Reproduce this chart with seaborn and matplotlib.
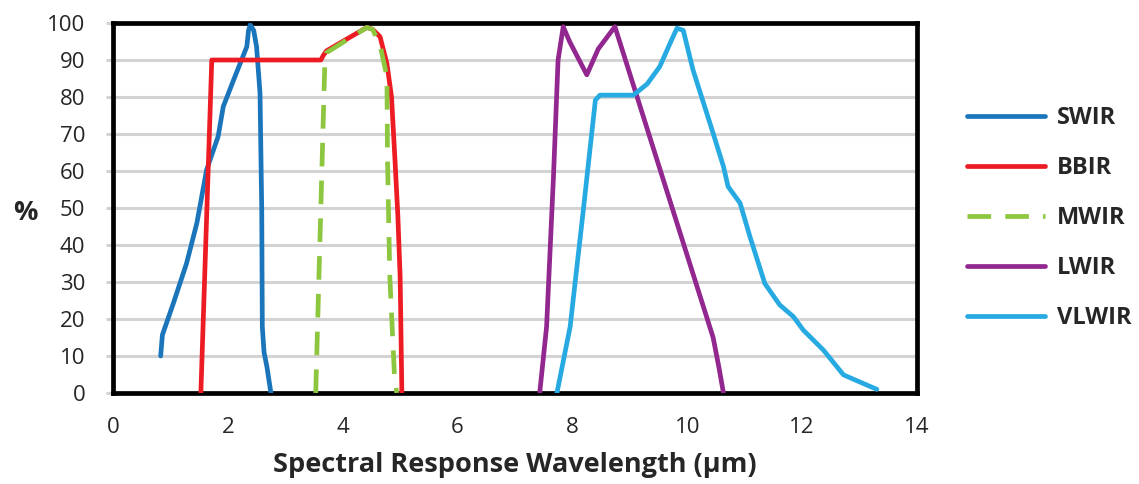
import matplotlib
matplotlib.use("Agg")
import matplotlib.pyplot as plt
import seaborn as sns
import pandas as pd
from matplotlib.lines import Line2D

# ---- data ----
swir_x = [0.83, 0.86, 1.05, 1.28, 1.46, 1.63, 1.83, 1.92, 2.10, 2.33, 2.36, 2.39, 2.45, 2.50, 2.56, 2.59, 2.60, 2.63, 2.68, 2.75]
swir_y = [10, 15.7, 24.2, 35, 45.9, 60.3, 69.3, 77.4, 84.6, 93.6, 98, 99.5, 98, 93.6, 81, 49.5, 17.9, 11, 7.1, 0]

bbir_x = [1.53, 1.72, 3.62, 3.66, 3.72, 4.42, 4.52, 4.65, 4.77, 4.85, 4.91, 4.96, 5.00, 5.03]
bbir_y = [0, 90, 90, 91.2, 92.5, 98.8, 98.3, 96.3, 89, 80, 63, 48, 31.4, 0]

mwir_x = [3.53, 3.69, 3.72, 4.42, 4.52, 4.65, 4.77, 4.78, 4.82, 4.90, 4.94]
mwir_y = [0, 90, 92, 98.8, 98.3, 94, 85.5, 63, 31.4, 5, 0]

lwir_x = [7.43, 7.55, 7.67, 7.75, 7.84, 7.95, 8.25, 8.45, 8.74, 10.45, 10.55, 10.63]
lwir_y = [0, 17.9, 58.5, 90, 99, 95, 86, 93, 99, 15, 7, 0]

vlwir_x = [7.73, 7.96, 8.19, 8.40, 8.48, 9.06, 9.30, 9.52, 9.70, 9.82, 9.93, 10.10, 10.45, 10.63, 10.71, 10.92, 11.09, 11.35, 11.61, 11.85, 12.02, 12.37, 12.72, 13.06, 13.30]
vlwir_y = [0, 17.9, 49.5, 79.2, 80.5, 80.5, 83.5, 88.2, 94.5, 98.6, 98, 87.3, 70.2, 61.2, 55.8, 51.3, 42.3, 29.6, 23.8, 20.6, 17, 11.6, 4.9, 2.6, 1]

series_names = ["SWIR", "BBIR", "MWIR", "LWIR", "VLWIR"]
series_colors = ["#1B75BB", "#ED1C24", "#8DC63F", "#92278F", "#27AAE1"]
x_ticks = [0, 2, 4, 6, 8, 10, 12, 14]
y_ticks = [0, 10, 20, 30, 40, 50, 60, 70, 80, 90, 100]

sns.set_theme(style="white")
plt.rcParams['font.family'] = ['Open Sans', 'DejaVu Sans']

fig = plt.figure(figsize=(11.39, 4.84), dpi=100)
ax = fig.add_axes([113/1139, 1-393/484, (917-113)/1139, (393-23)/484])

xs = [swir_x, bbir_x, mwir_x, lwir_x, vlwir_x]
ys = [swir_y, bbir_y, mwir_y, lwir_y, vlwir_y]
styles = ["-", "-", (0, (5, 3)), "-", "-"]
handles = []
for name, x, y, c, ls in zip(series_names, xs, ys, series_colors, styles):
    df = pd.DataFrame({"x": x, "y": y})
    sns.lineplot(data=df, x="x", y="y", sort=False, ax=ax, color=c, lw=3.4,
                 linestyle=ls, zorder=3 if name != "MWIR" else 4, legend=False)
    handles.append(Line2D([0], [0], color=c, lw=3.4, linestyle=ls))

ax.set_xlim(0, 14)
ax.set_ylim(0, 100)
ax.set_xticks(x_ticks)
ax.set_yticks(y_ticks)
ax.yaxis.grid(True, color="#D3D3D3", lw=2.2)
ax.xaxis.grid(False)
ax.set_axisbelow(True)
for s in ax.spines.values():
    s.set_color("black")
    s.set_linewidth(3.4)
ax.tick_params(axis="y", length=5, width=2.2, color="#D3D3D3", labelsize=16, pad=15, left=True)
ax.tick_params(axis="x", length=0, labelsize=16, pad=17)
ax.set_xlabel("Spectral Response Wavelength (µm)", fontsize=19.5, fontweight="bold", labelpad=10)
ax.set_ylabel("")
fig.text(25/1139, 1-213/484, "%", fontsize=19.5, fontweight="bold", ha="center", va="center")

leg = fig.legend(handles, series_names, loc="center left", bbox_to_anchor=(967/1139, 1-218/484),
                 frameon=False, handlelength=3.3, handletextpad=0.5, labelspacing=1.1,
                 borderaxespad=0, borderpad=0, prop={"size": 17, "weight": "bold"})

fig.savefig("out.png", dpi=100)
